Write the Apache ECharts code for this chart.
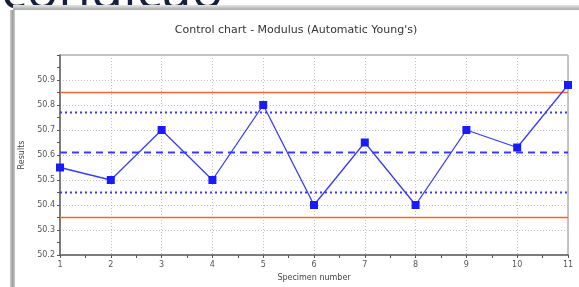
<!DOCTYPE html>
<html><head><meta charset="utf-8">
<script src="https://cdn.jsdelivr.net/npm/echarts@6/dist/echarts.min.js"></script>
<style>html,body{margin:0;padding:0;background:#fff;}#c{width:579px;height:287px;}</style>
</head><body><div id="c"></div>
<script>
const specimens = [1,2,3,4,5,6,7,8,9,10,11];
const results = [50.55,50.50,50.70,50.50,50.80,50.40,50.65,50.40,50.70,50.63,50.88];
const centerLine = 50.61;
const upperControl = 50.85;
const lowerControl = 50.35;
const upperWarning = 50.77;
const lowerWarning = 50.45;
const titleText = "Control chart - Modulus (Automatic Young's)";
const headerText = "condicao";

const xFirst = specimens[0], xLast = specimens[specimens.length-1];
function hline(v){ return [[xFirst, v],[xLast, v]]; }

const chart = echarts.init(document.getElementById('c'), null, {renderer:'canvas'});
const lbl = {color:'#555', fontFamily:'DejaVu Sans', fontSize:8};
chart.setOption({
  animation:false,
  backgroundColor:'#fff',
  title:{text:titleText, left:291, top:20, textAlign:'center',
    textStyle:{fontFamily:'DejaVu Sans', fontSize:11, fontWeight:'normal', color:'#333'}},
  grid:{left:60, right:11, top:55, bottom:30, show:true, borderColor:'#888', borderWidth:1, backgroundColor:'transparent'},
  graphic:[
    {type:'text', left:1, top:-34, z:-30, style:{text:headerText, font:'53px "Open Sans"', fill:'#16203c'}},
    {type:'rect', shape:{x:15, y:10, width:570, height:280}, style:{fill:'#fff'}, z:-20},
    {type:'rect', shape:{x:13, y:5, width:570, height:5}, z:-10,
      style:{fill:new echarts.graphic.LinearGradient(0,0,0,1,[{offset:0,color:'#e6e6e6'},{offset:1,color:'#a8a8a8'}])}},
    {type:'rect', shape:{x:10, y:10, width:5, height:280}, z:-10,
      style:{fill:new echarts.graphic.LinearGradient(0,0,1,0,[{offset:0,color:'#d0d0d0'},{offset:0.5,color:'#a0a0a0'},{offset:1,color:'#c8c8c8'}])}}
  ],
  xAxis:{type:'value', min:xFirst, max:xLast, interval:1,
    name:'Specimen number', nameLocation:'middle', nameGap:19,
    nameTextStyle:{color:'#444', fontFamily:'DejaVu Sans', fontSize:8},
    axisLine:{lineStyle:{color:'#666', width:1.5}},
    axisTick:{show:true, length:3, lineStyle:{color:'#555'}},
    minorTick:{show:true, splitNumber:2, length:3, lineStyle:{color:'#555'}},
    axisLabel:Object.assign({margin:6}, lbl),
    splitLine:{show:true, lineStyle:{color:'#c0c0c0', type:[1,2]}}},
  yAxis:{type:'value', min:50.2, max:51.0, interval:0.1,
    name:'Results', nameLocation:'middle', nameGap:30, nameRotate:90,
    nameTextStyle:{color:'#444', fontFamily:'DejaVu Sans', fontSize:8},
    axisLine:{show:true, lineStyle:{color:'#666', width:1.5}},
    axisTick:{show:true, length:3, lineStyle:{color:'#555'}},
    minorTick:{show:true, splitNumber:2, length:3, lineStyle:{color:'#555'}},
    axisLabel:Object.assign({margin:5, showMaxLabel:false, formatter:v=>v.toFixed(1)}, lbl),
    splitLine:{show:true, lineStyle:{color:'#c0c0c0', type:[1,2]}}},
  series:[
    {type:'line', data:hline(upperControl), symbol:'none', silent:true, lineStyle:{color:'#ff6030', width:1.3}},
    {type:'line', data:hline(lowerControl), symbol:'none', silent:true, lineStyle:{color:'#ff6030', width:1.3}},
    {type:'line', data:hline(upperWarning), symbol:'none', silent:true, lineStyle:{color:'#3a3aff', width:2, type:[2,3]}},
    {type:'line', data:hline(lowerWarning), symbol:'none', silent:true, lineStyle:{color:'#3a3aff', width:2, type:[2,3]}},
    {type:'line', data:hline(centerLine), symbol:'none', silent:true, lineStyle:{color:'#3a3aff', width:2, type:[7,5]}},
    {type:'line', data:specimens.map((s,i)=>[s, results[i]]), symbol:'rect', symbolSize:8,
      itemStyle:{color:'#1a1aff'}, lineStyle:{color:'#3a3aff', width:1.3}, z:5}
  ]
});
</script></body></html>
